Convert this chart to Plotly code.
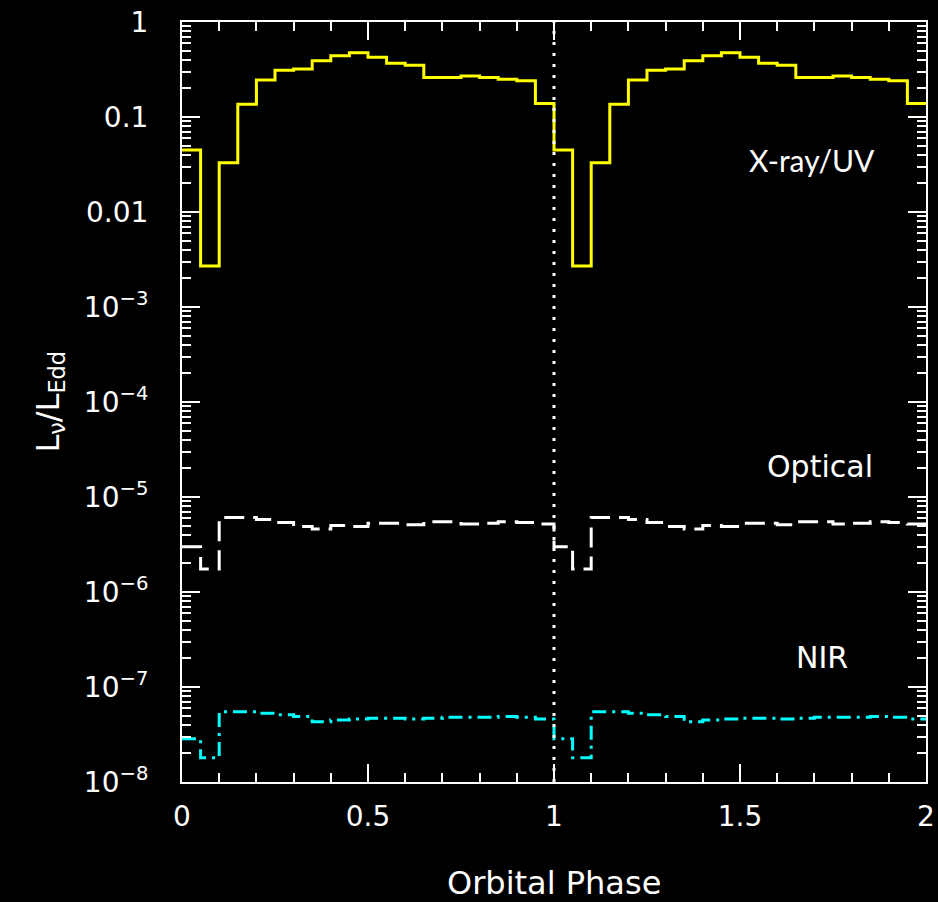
import numpy as np
import plotly.graph_objects as go

# Phase-binned light curves (20 bins per orbit, width 0.05), L_nu / L_Edd
phase_edges = np.linspace(0.0, 1.0, 21)

xray_uv = [0.045, 0.0027, 0.033, 0.136, 0.245, 0.31, 0.32, 0.39, 0.44, 0.475,
           0.425, 0.367, 0.35, 0.26, 0.26, 0.27, 0.26, 0.249, 0.241, 0.139]

optical = [3.0e-6, 1.75e-6, 6.1e-6, 6.1e-6, 5.8e-6, 5.4e-6, 4.9e-6, 4.6e-6, 5.0e-6, 4.9e-6,
           5.3e-6, 5.3e-6, 5.1e-6, 5.5e-6, 5.5e-6, 5.2e-6, 5.3e-6, 5.5e-6, 5.4e-6, 5.2e-6]

nir = [2.85e-8, 1.8e-8, 5.5e-8, 5.5e-8, 5.3e-8, 5.1e-8, 4.9e-8, 4.3e-8, 4.5e-8, 4.6e-8,
       4.7e-8, 4.7e-8, 4.6e-8, 4.7e-8, 4.8e-8, 4.8e-8, 4.8e-8, 4.9e-8, 4.8e-8, 4.6e-8]

y_tickvals = [1, 0.1, 0.01, 1e-3, 1e-4, 1e-5, 1e-6, 1e-7, 1e-8]
y_ticktext = ["1", "0.1", "0.01", "10<sup>\u22123</sup>", "10<sup>\u22124</sup>",
              "10<sup>\u22125</sup>", "10<sup>\u22126</sup>", "10<sup>\u22127</sup>",
              "10<sup>\u22128</sup>"]
x_tickvals = [0, 0.5, 1, 1.5, 2]
x_ticktext = ["0", "0.5", "1", "1.5", "2"]

n_orbits = 2


def folded_steps(values):
    """Repeat one orbit of binned values over n_orbits and return step vertices."""
    x = np.concatenate([phase_edges[:-1] + k for k in range(n_orbits)] + [[float(n_orbits)]])
    y = list(values) * n_orbits
    y = y + [y[-1]]
    return x, y


FONT = "DejaVu Sans"
fig = go.Figure()

for vals, color, dash in [
    (xray_uv, "#ffff00", "solid"),
    (optical, "#ffffff", "20px,9px"),
    (nir, "#00ffff", "14px,6px,3px,6px"),
]:
    x, y = folded_steps(vals)
    fig.add_trace(go.Scatter(x=x, y=y, mode="lines", line_shape="hv",
                             line=dict(color=color, width=3, dash=dash),
                             hoverinfo="skip", showlegend=False))

# phase = 1 marker
fig.add_trace(go.Scatter(x=[1, 1], y=[1e-8, 1], mode="lines",
                         line=dict(color="white", width=3, dash="3px,8px"),
                         hoverinfo="skip", showlegend=False))

axis_common = dict(showline=True, linecolor="white", linewidth=2, mirror="ticks",
                   ticks="inside", tickcolor="white", tickwidth=2, showgrid=False,
                   zeroline=False, automargin=False,
                   tickfont=dict(family=FONT, size=28, color="white"))

fig.update_xaxes(range=[0, 2], tickvals=x_tickvals, ticktext=x_ticktext, ticklen=18,
                 ticklabelstandoff=8,
                 minor=dict(ticks="inside", dtick=0.1, ticklen=9, tickcolor="white",
                            tickwidth=2, showgrid=False),
                 **axis_common)
fig.update_yaxes(type="log", range=[-8, 0], tickvals=y_tickvals, ticktext=y_ticktext,
                 ticklen=18, ticklabelstandoff=26,
                 minor=dict(ticks="inside", dtick="D1", ticklen=9, tickcolor="white",
                            tickwidth=2, showgrid=False),
                 **axis_common)

annotations = [
    dict(text="X-ray/UV", x=1.694, y=-1.45, xref="x", yref="y",
         font=dict(family="Lato", size=30, color="white"), showarrow=False),
    dict(text="Optical", x=1.715, y=-4.68, xref="x", yref="y",
         font=dict(family=FONT, size=30, color="white"), showarrow=False),
    dict(text="NIR", x=1.72, y=-6.69, xref="x", yref="y",
         font=dict(family=FONT, size=30, color="white"), showarrow=False),
    dict(text="Orbital Phase", x=0.5, y=-0.133, xref="paper", yref="paper",
         xanchor="center", yanchor="middle",
         font=dict(family=FONT, size=32, color="white"), showarrow=False),
    dict(text="L<sub>\u03bd</sub>/L<sub>Edd</sub>", x=-0.178, y=0.5, xref="paper",
         yref="paper", xanchor="center", yanchor="middle", textangle=-90,
         font=dict(family=FONT, size=32, color="white"), showarrow=False),
]

fig.update_layout(width=938, height=902, paper_bgcolor="black", plot_bgcolor="black",
                  margin=dict(l=182, r=12, t=22, b=120), annotations=annotations)

fig.write_html("out.html")
